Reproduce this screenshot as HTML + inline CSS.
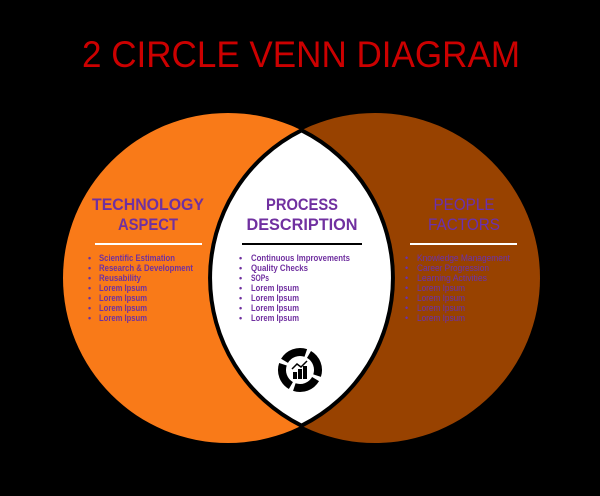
<!DOCTYPE html>
<html><head><meta charset="utf-8"><style>
html,body{margin:0;padding:0;background:#000;}
svg{display:block;}
text{font-family:"Liberation Sans",sans-serif;}
</style></head><body>
<svg width="600" height="496" viewBox="0 0 600 496" xmlns="http://www.w3.org/2000/svg">
<rect width="600" height="496" fill="#000"/>
<text x="301" y="67" font-size="37" fill="#cc0000" text-anchor="middle" textLength="438" lengthAdjust="spacingAndGlyphs">2 CIRCLE VENN DIAGRAM</text>
<defs>
<clipPath id="cl"><circle cx="228" cy="278" r="165"/></clipPath>
</defs>
<circle cx="228" cy="278" r="165" fill="#f97a18"/>
<circle cx="375" cy="278" r="165" fill="#984200"/>
<circle cx="375" cy="278" r="165" fill="#fff" clip-path="url(#cl)"/>
<g fill="none" stroke="#000" stroke-width="4">
<path d="M301.5 130.3 A165 165 0 0 1 301.5 425.7" />
<path d="M301.5 130.3 A165 165 0 0 0 301.5 425.7" />
</g>
<g font-weight="bold" font-size="17" text-anchor="middle" fill="#7030a0" lengthAdjust="spacingAndGlyphs">
<text x="148" y="210" textLength="112" lengthAdjust="spacingAndGlyphs">TECHNOLOGY</text><text x="148" y="230" textLength="60" lengthAdjust="spacingAndGlyphs">ASPECT</text>
<text x="302" y="210" textLength="72" lengthAdjust="spacingAndGlyphs">PROCESS</text><text x="302" y="230" textLength="111" lengthAdjust="spacingAndGlyphs">DESCRIPTION</text>
<text x="464" y="210" fill="#6a30b0" font-weight="normal" textLength="61" lengthAdjust="spacingAndGlyphs">PEOPLE</text><text x="464" y="230" fill="#6a30b0" font-weight="normal" textLength="72" lengthAdjust="spacingAndGlyphs">FACTORS</text>
</g>
<rect x="95" y="243" width="107" height="2" fill="#fff"/>
<rect x="242" y="243" width="120" height="2" fill="#000"/>
<rect x="410" y="243" width="107" height="2" fill="#fff"/>
<g font-size="9" font-weight="bold" fill="#7030a0">
<g><text x="88" y="261">•</text><text x="99" y="261" textLength="76" lengthAdjust="spacingAndGlyphs">Scientific Estimation</text>
<text x="88" y="271">•</text><text x="99" y="271" textLength="94" lengthAdjust="spacingAndGlyphs">Research &amp; Development</text>
<text x="88" y="281">•</text><text x="99" y="281" textLength="42" lengthAdjust="spacingAndGlyphs">Reusability</text>
<text x="88" y="291">•</text><text x="99" y="291" textLength="48" lengthAdjust="spacingAndGlyphs">Lorem Ipsum</text>
<text x="88" y="301">•</text><text x="99" y="301" textLength="48" lengthAdjust="spacingAndGlyphs">Lorem Ipsum</text>
<text x="88" y="311">•</text><text x="99" y="311" textLength="48" lengthAdjust="spacingAndGlyphs">Lorem Ipsum</text>
<text x="88" y="321">•</text><text x="99" y="321" textLength="48" lengthAdjust="spacingAndGlyphs">Lorem Ipsum</text></g>
<g><text x="239" y="261">•</text><text x="251" y="261" textLength="99" lengthAdjust="spacingAndGlyphs">Continuous Improvements</text>
<text x="239" y="271">•</text><text x="251" y="271" textLength="57" lengthAdjust="spacingAndGlyphs">Quality Checks</text>
<text x="239" y="281">•</text><text x="251" y="281" textLength="18" lengthAdjust="spacingAndGlyphs">SOPs</text>
<text x="239" y="291">•</text><text x="251" y="291" textLength="48" lengthAdjust="spacingAndGlyphs">Lorem Ipsum</text>
<text x="239" y="301">•</text><text x="251" y="301" textLength="48" lengthAdjust="spacingAndGlyphs">Lorem Ipsum</text>
<text x="239" y="311">•</text><text x="251" y="311" textLength="48" lengthAdjust="spacingAndGlyphs">Lorem Ipsum</text>
<text x="239" y="321">•</text><text x="251" y="321" textLength="48" lengthAdjust="spacingAndGlyphs">Lorem Ipsum</text></g>
<g fill="#6a30b0" font-weight="normal"><text x="405" y="261">•</text><text x="417" y="261" textLength="93" lengthAdjust="spacingAndGlyphs">Knowledge Management</text>
<text x="405" y="271">•</text><text x="417" y="271" textLength="72" lengthAdjust="spacingAndGlyphs">Career Progression</text>
<text x="405" y="281">•</text><text x="417" y="281" textLength="70" lengthAdjust="spacingAndGlyphs">Learning Activities</text>
<text x="405" y="291">•</text><text x="417" y="291" textLength="48" lengthAdjust="spacingAndGlyphs">Lorem Ipsum</text>
<text x="405" y="301">•</text><text x="417" y="301" textLength="48" lengthAdjust="spacingAndGlyphs">Lorem Ipsum</text>
<text x="405" y="311">•</text><text x="417" y="311" textLength="48" lengthAdjust="spacingAndGlyphs">Lorem Ipsum</text>
<text x="405" y="321">•</text><text x="417" y="321" textLength="48" lengthAdjust="spacingAndGlyphs">Lorem Ipsum</text></g>
</g>
<g transform="translate(300,370)">
<circle r="18" fill="none" stroke="#000" stroke-width="8" stroke-dasharray="24.5 3.8" transform="rotate(-60)"/>
<rect x="-7" y="2" width="4" height="7" fill="#000"/>
<rect x="-2" y="-1" width="4" height="10" fill="#000"/>
<rect x="3" y="-4" width="4" height="13" fill="#000"/>
<polyline points="-8,-1 -3,-6 1,-3 7,-9" fill="none" stroke="#000" stroke-width="1.5"/>
</g>
</svg>
</body></html>
